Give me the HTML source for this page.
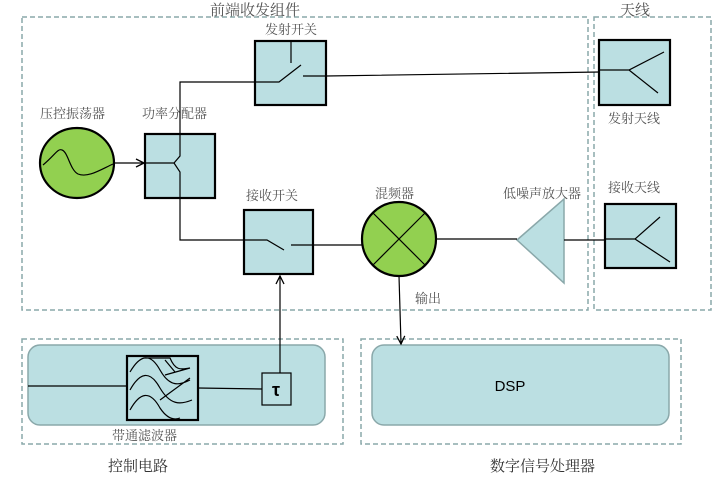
<!DOCTYPE html><html><head><style>body{margin:0;background:#fff}</style></head><body>
<svg width="717" height="478" xmlns="http://www.w3.org/2000/svg" font-family="Liberation Sans, Noto Sans CJK SC, sans-serif">
<defs><marker id="a" markerWidth="10" markerHeight="10" refX="9" refY="5" orient="auto" markerUnits="userSpaceOnUse"><path d="M1,1 L9,5 L1,9" fill="none" stroke="#000" stroke-width="1.3"/></marker></defs>
<g fill="none" stroke="#8aa8aa" stroke-width="1.5" stroke-dasharray="5,3">
<rect x="22" y="17" width="566" height="293"/>
<rect x="594" y="17" width="117" height="293"/>
<rect x="22" y="339" width="321" height="105"/>
<rect x="361" y="339" width="320" height="105"/>
</g>
<g font-size="13" fill="#555" font-family="Liberation Serif, Noto Serif CJK SC, serif">
<text x="210" y="15" font-size="15">前端收发组件</text>
<text x="620" y="15" font-size="15">天线</text>
<text x="265" y="34">发射开关</text>
<text x="40" y="118">压控振荡器</text>
<text x="142" y="118">功率分配器</text>
<text x="246" y="200">接收开关</text>
<text x="375" y="198">混频器</text>
<text x="503" y="198">低噪声放大器</text>
<text x="608" y="123">发射天线</text>
<text x="608" y="192">接收天线</text>
<text x="415" y="303">输出</text>
<text x="112" y="440">带通滤波器</text>
</g>
<g font-size="15" fill="#333" font-family="Liberation Serif, Noto Serif CJK SC, serif">
<text x="108" y="471">控制电路</text>
<text x="490" y="471">数字信号处理器</text>
</g>
<rect x="28" y="345" width="297" height="80" rx="12" fill="#bbdfe2" stroke="#8aa8aa" stroke-width="1.5"/>
<rect x="372" y="345" width="297" height="80" rx="12" fill="#bbdfe2" stroke="#8aa8aa" stroke-width="1.5"/>
<text x="510" y="391" font-size="15" fill="#000" text-anchor="middle">DSP</text>
<g fill="#bbdfe2" stroke="#000" stroke-width="2.2">
<rect x="255" y="41" width="71" height="64"/>
<rect x="145" y="134" width="70" height="64"/>
<rect x="244" y="210" width="69" height="64"/>
<rect x="599" y="40" width="71" height="65"/>
<rect x="605" y="204" width="71" height="64"/>
<rect x="127" y="356" width="71" height="64"/>
</g>
<rect x="262" y="373" width="29" height="32" fill="#bbdfe2" stroke="#000" stroke-width="1.2"/>
<text x="276" y="396" font-size="18" font-weight="bold" text-anchor="middle">τ</text>
<ellipse cx="77" cy="163" rx="37" ry="35" fill="#92d050" stroke="#000" stroke-width="2.2"/>
<path d="M43,165 C55,155 58,148 62,150 C68,152 70,170 78,174 C88,178 100,170 113,164" fill="none" stroke="#000" stroke-width="1.2"/>
<circle cx="399" cy="239" r="37" fill="#92d050" stroke="#000" stroke-width="2.2"/>
<path d="M373,213 L425,265 M425,213 L373,265" stroke="#000" stroke-width="1.2"/>
<path d="M517,240 L564,199 L564,283 Z" fill="#bbdfe2" stroke="#8aa8aa" stroke-width="1.5"/>
<g fill="none" stroke="#000" stroke-width="1.2">
<path d="M114,163 L144,163" marker-end="url(#a)"/>
<path d="M145,163 L174,163 L180,156 L180,82 L279,82 L301,65 M291,41 L291,63 M303,76 L326,76 L600,72"/>
<path d="M174,163 L180,172 L180,240 L267,240 L284,250 M291,245 L313,245 L362,245"/>
<path d="M280,373 L280,276" marker-end="url(#a)"/>
<path d="M399,276 L401,344" marker-end="url(#a)"/>
<path d="M436,239 L517,239 M564,240 L605,240"/>
<path d="M600,70 L629,70 L664,52 M629,70 L658,93"/>
<path d="M606,239 L635,239 L660,217 M635,239 L670,262"/>
<path d="M28,386 L127,386 M198,388 L262,389"/>
<path d="M130,372 C140,355 150,352 160,370 C170,388 180,385 190,380 M130,390 C140,372 150,370 160,388 C170,405 180,405 192,400 M130,410 C140,392 150,390 160,408 C168,420 175,420 180,418 M145,358 L170,358 C175,370 180,370 190,368 M165,375 L190,368 M160,400 L190,378 M175,372 L165,360"/>
</g>
</svg>
</body></html>
